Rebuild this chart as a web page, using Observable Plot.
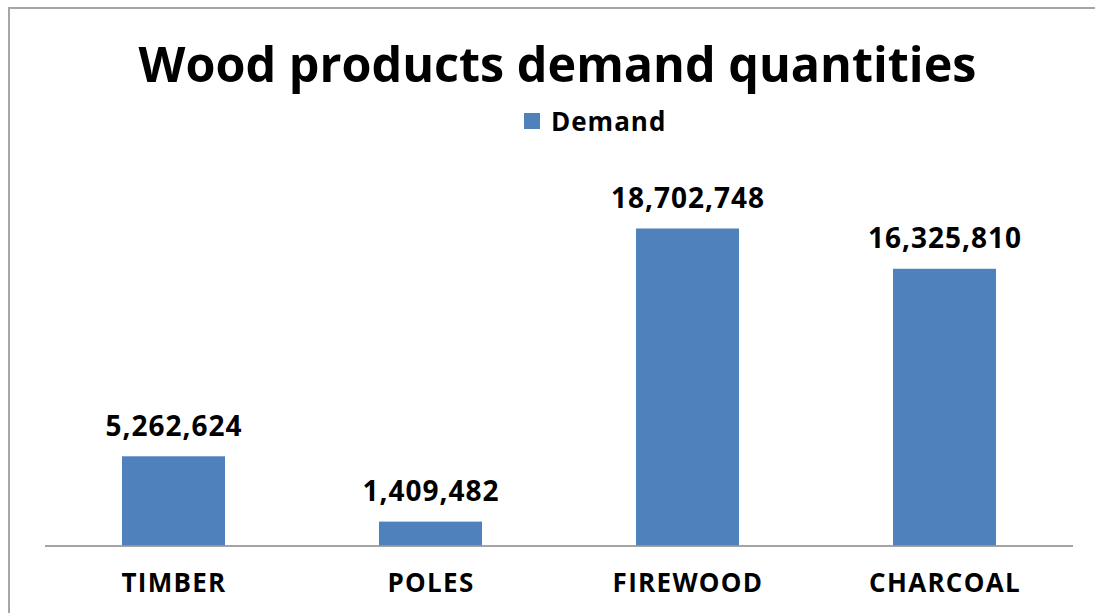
<!DOCTYPE html>
<html>
<head>
<meta charset="utf-8">
<script src="https://cdn.jsdelivr.net/npm/d3@7"></script>
<script src="https://cdn.jsdelivr.net/npm/@observablehq/plot@0.6"></script>
<style>
  html, body { margin: 0; padding: 0; background: #fff; }
  body { width: 1095px; height: 613px; overflow: hidden; position: relative; font-family: "Open Sans", sans-serif; }
  #frame { position: absolute; left: 8px; top: 7px; width: 1200px; height: 700px; border-left: 2px solid #a6a6a6; border-top: 2px solid #a6a6a6; pointer-events: none; }
  #header { position: relative; height: 150px; }
  #title { position: absolute; left: 0; width: 1115px; top: 39px; text-align: center; font-weight: 700; font-size: 48.5px; line-height: 1; color: #000; white-space: nowrap; }
  #legend { position: absolute; left: 524px; top: 108px; display: flex; align-items: center; font-weight: 700; font-size: 26px; letter-spacing: 1px; line-height: 1; color: #000; }
  #legend .sw { width: 16px; height: 16px; background: #4f81bd; margin-right: 11px; }
  #chart svg { display: block; }
  #chart g[aria-label="text"] text { letter-spacing: 1px; }
  #chart g[aria-label="x-axis tick label"] text { letter-spacing: 1.3px; }
</style>
</head>
<body>
<div id="frame"></div>
<div id="header">
  <div id="title">Wood products demand quantities</div>
  <div id="legend"><span class="sw"></span><span id="legendText">Demand</span></div>
</div>
<div id="chart"></div>
<script>
const categories = ["TIMBER", "POLES", "FIREWOOD", "CHARCOAL"];
const demand = [5262624, 1409482, 18702748, 16325810];
const seriesName = "Demand";

const data = categories.map((c, i) => ({category: c, value: demand[i]}));
const fmt = d3.format(",");

const chart = Plot.plot({
  width: 1095,
  height: 463,
  marginLeft: 45,
  marginRight: 22,
  marginTop: 56.5,
  marginBottom: 67.5,
  style: {fontFamily: "'Open Sans', sans-serif", background: "transparent", overflow: "visible"},
  x: {domain: categories, paddingInner: 0.6, paddingOuter: 0.3, axis: null},
  y: {domain: [0, 20000000], axis: null},
  marks: [
    Plot.barY(data, {x: "category", y: "value", fill: "#4f81bd"}),
    Plot.ruleY([0], {stroke: "#868686", strokeWidth: 1.5}),
    Plot.text(data, {x: "category", y: "value", text: d => fmt(d.value), dy: -21, lineAnchor: "bottom", fontSize: 28, fontWeight: "bold", fill: "#000"}),
    Plot.axisX({tickSize: 0, tickPadding: 28, fontSize: 26, fontWeight: "bold", fill: "#000", label: null})
  ]
});
document.getElementById("chart").appendChild(chart);
</script>
</body>
</html>
